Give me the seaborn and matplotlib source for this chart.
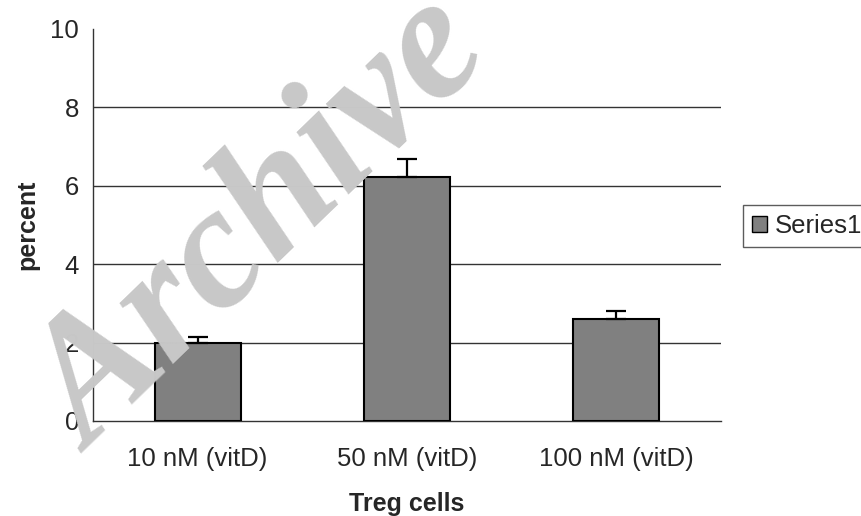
import numpy as np
import pandas as pd
import seaborn as sns
import matplotlib.pyplot as plt
import matplotlib.ticker as ticker
from matplotlib.patches import Patch

categories = ['10 nM (vitD)', '50 nM (vitD)', '100 nM (vitD)']
values = [2.0, 6.22, 2.59]
errors = [0.14, 0.46, 0.22]
series_name = 'Series1'

df = pd.DataFrame({'dose': categories, 'percent': values})

sns.set_style('white')
plt.rcParams['font.family'] = ['Liberation Sans', 'DejaVu Sans']

fig = plt.figure(figsize=(8.61, 5.16), dpi=100)
ax = fig.add_axes([93/861, 1 - 421/516, (721 - 93)/861, (421 - 29)/516])

sns.barplot(data=df, x='dose', y='percent', color='#808080', edgecolor='black',
            linewidth=1.5, width=0.41, saturation=1, ax=ax, zorder=3)
ax.errorbar(np.arange(len(values)), values, yerr=[np.zeros(len(errors)), errors],
            fmt='none', ecolor='black', elinewidth=1.6, capsize=7.5, capthick=1.6, zorder=4)

ax.set_ylim(0, 10)
ax.set_xlim(-0.5, 2.5)
ax.set_yticks([0, 2, 4, 6, 8, 10])
for y in [2, 4, 6, 8]:
    ax.axhline(y, color='#333333', lw=1, zorder=1)

ax.xaxis.set_minor_locator(ticker.FixedLocator([-0.5, 0.5, 1.5, 2.5]))
ax.tick_params(axis='x', which='major', length=0, pad=19, labelsize=18.5)
ax.tick_params(axis='x', which='minor', length=7, width=1, color='#333333', direction='out')
ax.tick_params(axis='y', length=7, width=1, color='#333333', direction='out', labelsize=18.5, pad=3)

for s in ['top', 'right']:
    ax.spines[s].set_visible(False)
for s in ['left', 'bottom']:
    ax.spines[s].set_color('#333333')
    ax.spines[s].set_linewidth(1)

ax.set_xlabel('Treg cells', fontsize=18, fontweight='bold', labelpad=15)
ax.set_ylabel('percent', fontsize=18, fontweight='bold', labelpad=8)

handle = Patch(facecolor='#808080', edgecolor='black', linewidth=1)
fig.legend([handle], [series_name], loc='center left', bbox_to_anchor=(743/861, 1 - 226/516),
           fontsize=18.5, frameon=True, fancybox=False, edgecolor='#333333', handlelength=0.6,
           handleheight=0.6, handletextpad=0.3, borderpad=0.35, borderaxespad=0)

fig.text(0.305, 0.56, 'Archive', fontsize=126, fontweight='bold', fontstyle='italic',
         family=['Liberation Serif', 'DejaVu Serif'], color='#c8c8c8', rotation=44,
         ha='center', va='center', zorder=10)

fig.savefig('out.png', dpi=100)
